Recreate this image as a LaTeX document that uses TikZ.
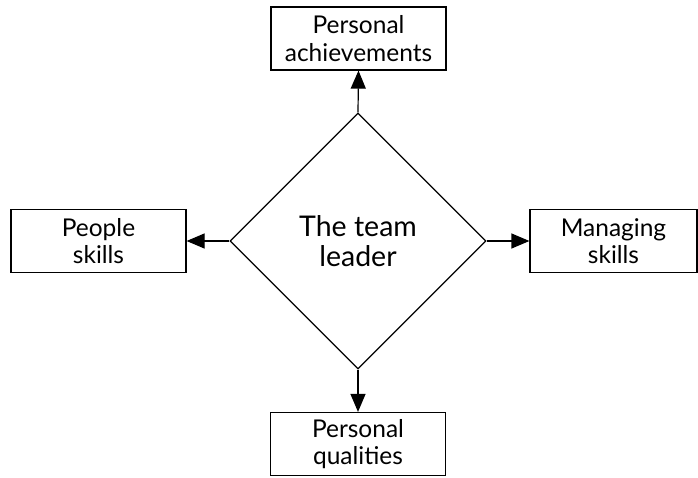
\documentclass[tikz,border=0pt]{standalone}
\usepackage{fontspec}
\setmainfont{Lato}
\usetikzlibrary{arrows.meta,shapes.geometric}

\begin{document}
\begin{tikzpicture}[x=1pt, y=1pt, line width=1.2pt, >={Triangle[length=18pt, width=15pt]},
    every node/.style={draw, align=center, inner sep=0pt, font=\fontsize{24.5}{27.5}\selectfont},
    box/.style={rectangle, minimum width=175pt, minimum height=63pt}]
    \useasboundingbox (0,0) rectangle (698,477);
    \node[diamond, minimum width=256pt, minimum height=256pt, font=\fontsize{28.5}{30}\selectfont] (lead) at (358,236) {The team\\leader};
    \node[box] (ach) at (358.5,438.5) {Personal\\achievements};
    \node[box] (ppl) at (98.5,236) {People\\skills};
    \node[box, minimum width=167pt] (mng) at (613.5,236) {Managing\\skills};
    \node[box] (qua) at (358,33) {Personal\\qualities};
        \draw[->] (lead.north) -- (ach.south);
        \draw[->] (lead.west) -- (ppl.east);
        \draw[->] (lead.east) -- (mng.west);
        \draw[->] (lead.south) -- (qua.north);
\end{tikzpicture}
\end{document}
